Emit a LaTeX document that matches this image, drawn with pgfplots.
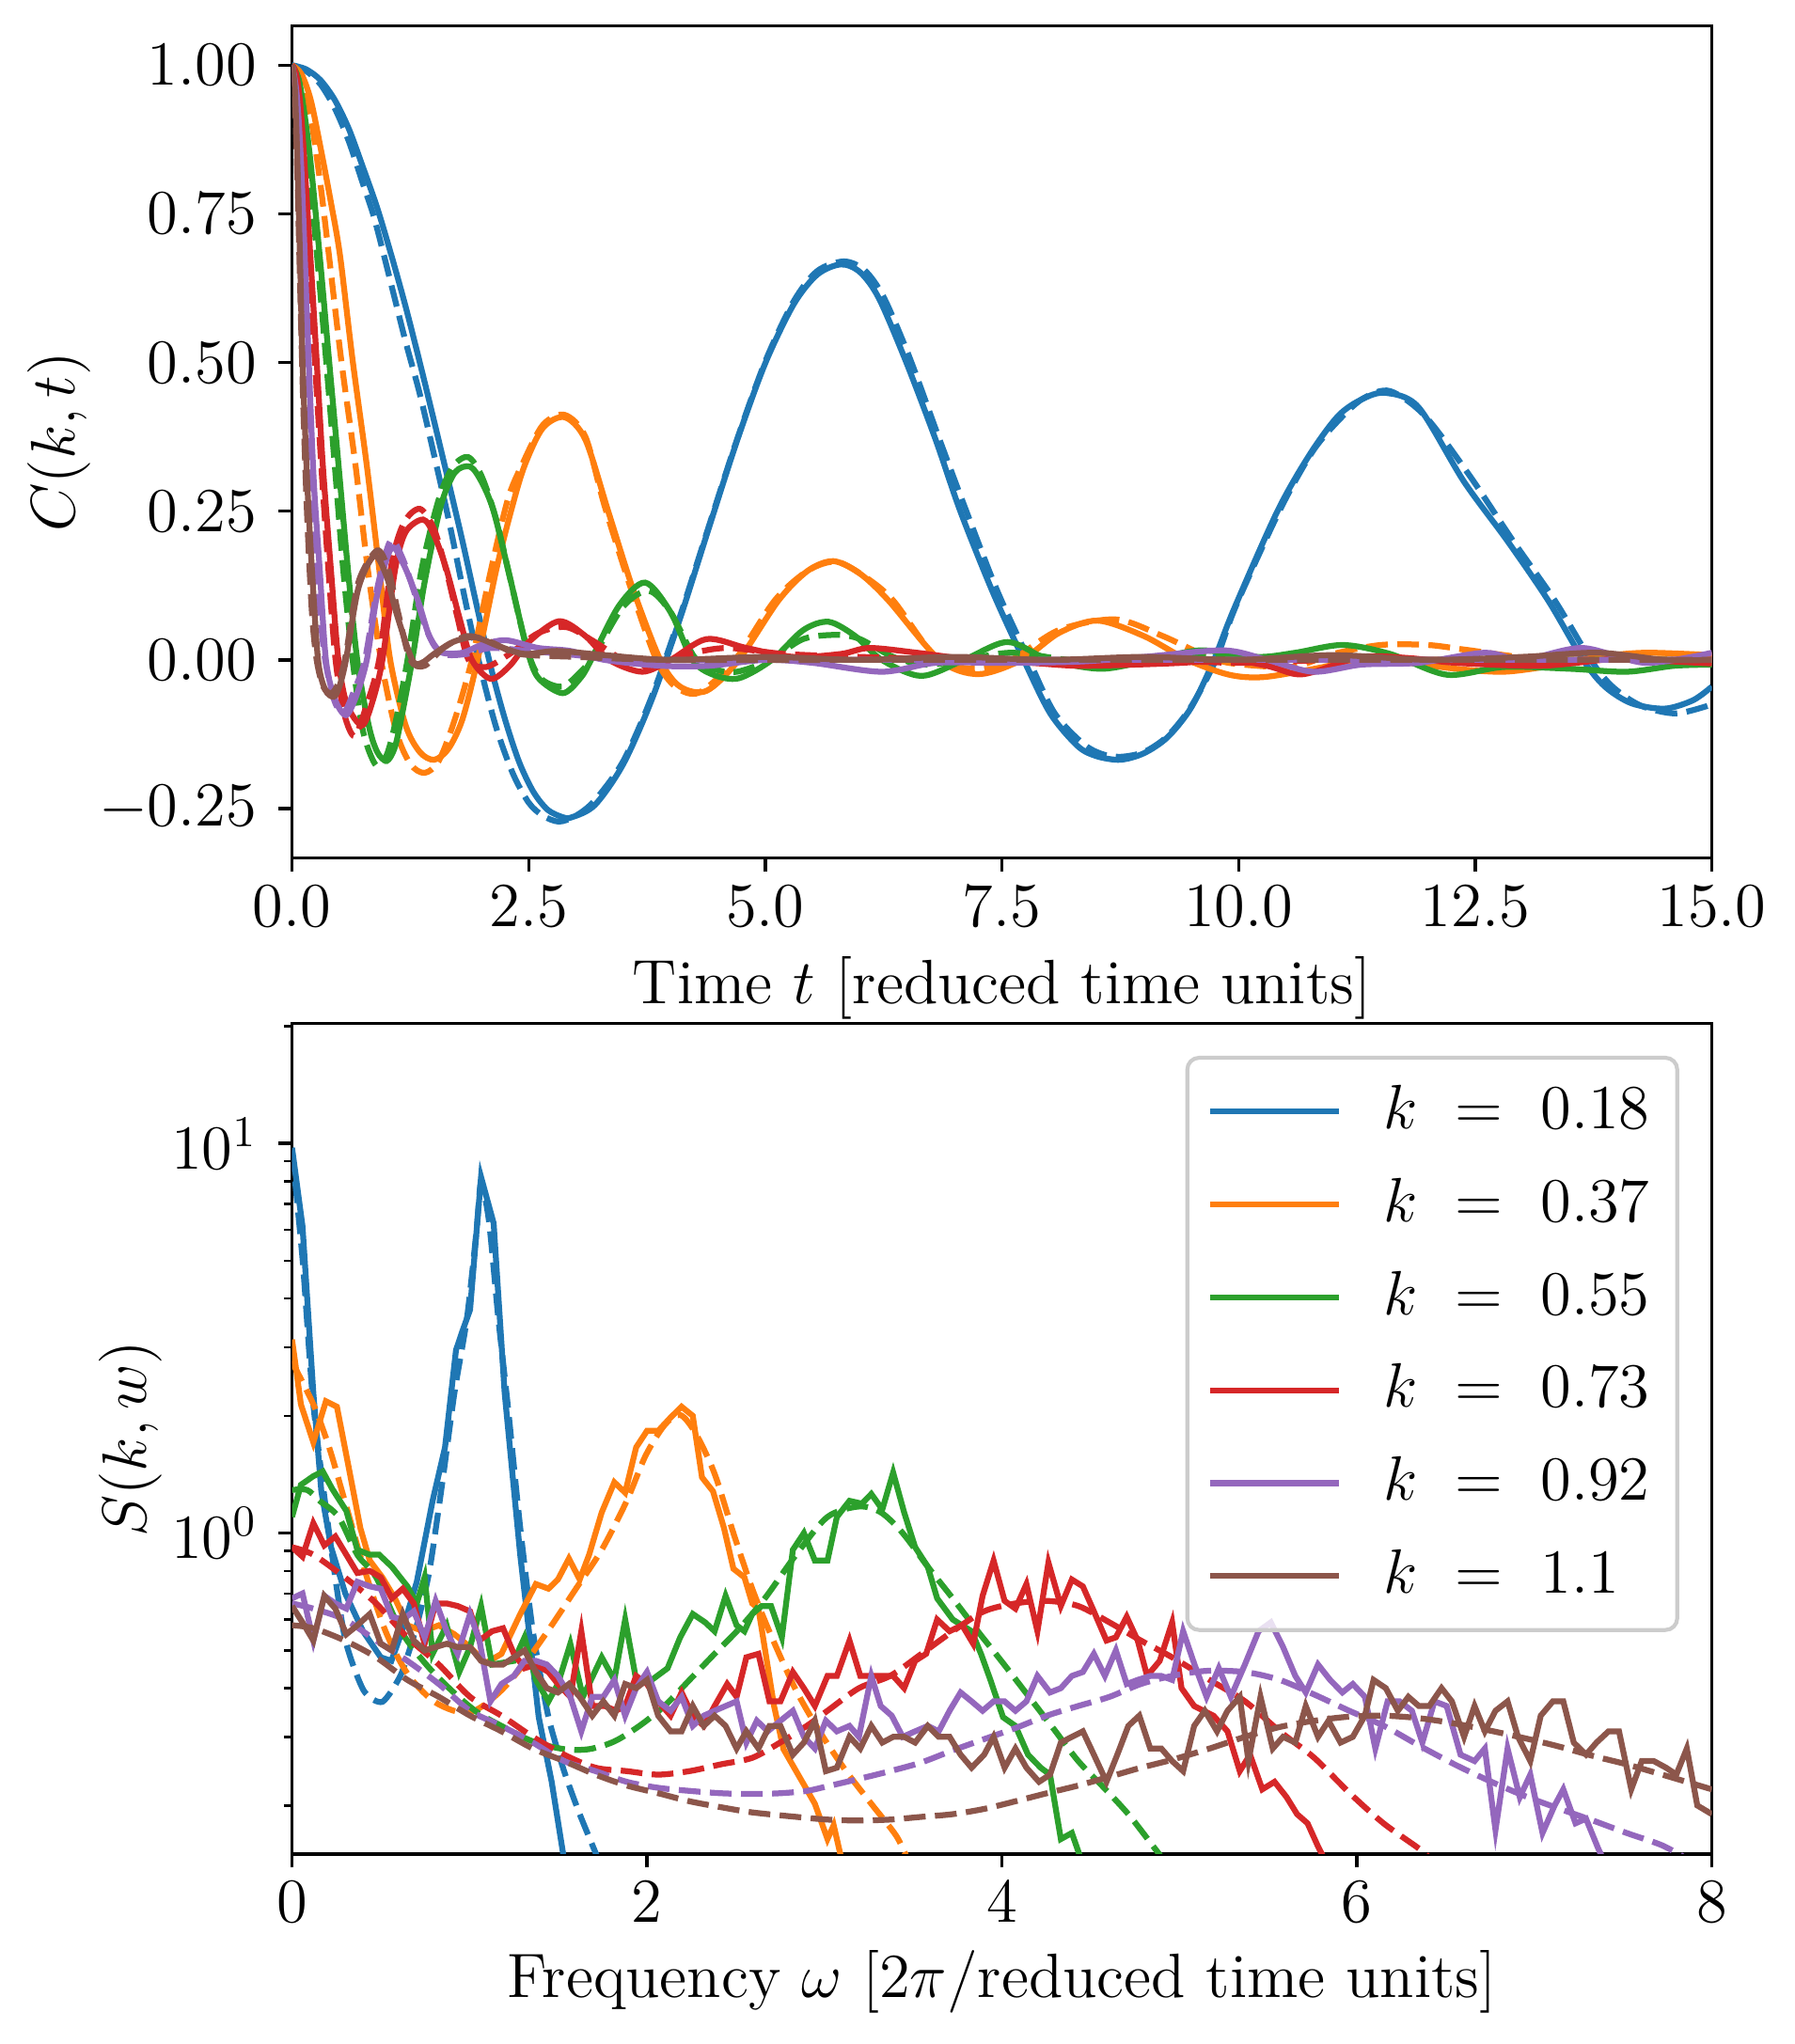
\documentclass[border=0pt]{standalone}
\usepackage{fix-cm}
\usepackage{pgfplots}
\pgfplotsset{compat=1.18}
\definecolor{c0}{HTML}{1F77B4}
\definecolor{c1}{HTML}{FF7F0E}
\definecolor{c2}{HTML}{2CA02C}
\definecolor{c3}{HTML}{D62728}
\definecolor{c4}{HTML}{9467BD}
\definecolor{c5}{HTML}{8C564B}
\pgfplotsset{
  base/.style={scale only axis, width=362.4pt, axis line style={line width=0.8pt},
    tick align=outside, xtick pos=left, ytick pos=left,
    major tick length=3.5pt, minor tick length=2pt,
    every tick/.style={black, line width=0.8pt},
    every minor tick/.style={black, line width=0.6pt},
    scaled ticks=false},
  sol/.style={line width=1.5pt},
  das/.style={line width=1.5pt, dash pattern=on 5.55pt off 2.4pt},
}
\begin{document}%
\DeclareFontShape{TU}{lmr}{m}{n}{<-> "[lmroman12-regular]:mapping=tex-text"}{}%
\fontsize{16}{19}\selectfont%
\begin{tikzpicture}
\useasboundingbox (-74.54pt,6.65pt) rectangle (383.38pt,-515.11pt);
\begin{axis}[base, height=212.4pt, at={(0pt,0pt)}, anchor=north west,
  xmin=0, xmax=15, ymin=-0.3334, ymax=1.0658,
  xtick={0,2.5,5,7.5,10,12.5,15}, ytick={-0.25,0,0.25,0.5,0.75,1},
  xticklabel style={yshift=1.8pt, /pgf/number format/.cd, fixed, fixed zerofill, precision=1},
  yticklabel style={/pgf/number format/.cd, fixed, fixed zerofill, precision=2},
  xlabel={Time $t$ [reduced time units]}, ylabel={$C(k,t)$},
  xlabel style={at={(axis description cs:0.5,-0.156)}, anchor=center},
  ylabel style={at={(axis description cs:-0.1638,0.5)}, anchor=center},
  every axis plot/.append style={smooth, tension=0.5}]
% blue
\addplot[sol, c0] coordinates {(0,1) (0.15,0.993) (0.3,0.975) (0.45,0.942) (0.6,0.893) (0.75,0.828) (0.9,0.76) (1.05,0.68) (1.2,0.594) (1.35,0.5) (1.5,0.402) (1.65,0.302) (1.8,0.2) (1.95,0.092) (2.1,-0.012) (2.25,-0.1) (2.4,-0.172) (2.55,-0.222) (2.7,-0.252) (2.85,-0.264) (2.95,-0.265) (3.2,-0.244) (3.5,-0.175) (3.8,-0.067) (4.1,0.07) (4.4,0.22) (4.7,0.368) (5.0,0.499) (5.3,0.598) (5.55,0.648) (5.8,0.665) (6.0,0.652) (6.2,0.608) (6.49,0.5) (6.8,0.37) (7.06,0.25) (7.4,0.115) (7.73,0.0) (8.01,-0.09) (8.3,-0.145) (8.5,-0.162) (8.75,-0.168) (9.0,-0.157) (9.25,-0.13) (9.5,-0.08) (9.74,0.0) (9.95,0.085) (10.41,0.25) (10.75,0.345) (11.05,0.41) (11.3,0.438) (11.55,0.449) (11.9,0.425) (12.38,0.3) (12.84,0.2) (13.27,0.1) (13.64,0.0) (13.87,-0.045) (14.15,-0.073) (14.5,-0.082) (14.8,-0.068) (15,-0.045)};
\addplot[das, c0] coordinates {(0,1) (0.15,0.99) (0.3,0.968) (0.45,0.928) (0.6,0.872) (0.75,0.8) (0.872,0.741) (1.05,0.63) (1.2,0.535) (1.35,0.447) (1.5,0.345) (1.66,0.232) (1.83,0.1) (1.97,0.0) (2.15,-0.11) (2.33,-0.19) (2.5,-0.24) (2.65,-0.262) (2.82,-0.272) (3.0,-0.262) (3.2,-0.236) (3.5,-0.17) (3.8,-0.062) (4.1,0.074) (4.4,0.223) (4.7,0.37) (5.0,0.502) (5.3,0.603) (5.55,0.654) (5.83,0.67) (6.05,0.655) (6.25,0.61) (6.52,0.51) (6.83,0.375) (7.1,0.26) (7.44,0.12) (7.77,0.005) (8.05,-0.088) (8.35,-0.14) (8.55,-0.158) (8.75,-0.163) (9.0,-0.155) (9.25,-0.128) (9.5,-0.078) (9.76,0.0) (9.97,0.09) (10.43,0.25) (10.78,0.35) (11.07,0.405) (11.32,0.44) (11.6,0.452) (11.97,0.41) (12.44,0.31) (12.9,0.2) (13.34,0.1) (13.72,0.0) (13.95,-0.045) (14.25,-0.077) (14.62,-0.09) (15,-0.075)};
% orange
\addplot[sol, c1] coordinates {(0,1) (0.1,0.985) (0.2,0.94) (0.309,0.855) (0.41,0.77) (0.507,0.68) (0.64,0.504) (0.789,0.328) (0.921,0.153) (1.037,0.0) (1.2,-0.11) (1.35,-0.155) (1.5,-0.168) (1.65,-0.15) (1.8,-0.1) (1.96,0.0) (2.16,0.153) (2.33,0.26) (2.46,0.328) (2.65,0.39) (2.88,0.408) (3.1,0.37) (3.34,0.25) (3.6,0.12) (3.89,0.0) (4.1,-0.045) (4.38,-0.052) (4.72,0.0) (5.14,0.1) (5.45,0.15) (5.72,0.166) (6.0,0.145) (6.3,0.1) (6.84,0.0) (7.25,-0.024) (7.71,0.0) (8.1,0.045) (8.51,0.066) (9.0,0.04) (9.46,0.0) (9.9,-0.025) (10.26,-0.029) (10.8,-0.015) (11.3,0.0) (11.8,-0.005) (12.3,-0.015) (12.8,-0.02) (13.3,-0.01) (13.8,0.005) (14.3,0.012) (15,0.008)};
\addplot[das, c1] coordinates {(0,1) (0.1,0.975) (0.2,0.91) (0.3,0.8) (0.39,0.68) (0.52,0.504) (0.67,0.328) (0.8,0.153) (0.94,0.0) (1.1,-0.12) (1.25,-0.175) (1.40,-0.19) (1.55,-0.17) (1.72,-0.1) (1.9,0.0) (2.1,0.15) (2.28,0.27) (2.43,0.328) (2.65,0.395) (2.88,0.412) (3.1,0.375) (3.3,0.26) (3.58,0.12) (3.85,0.0) (4.05,-0.045) (4.3,-0.055) (4.68,0.0) (5.1,0.1) (5.45,0.15) (5.75,0.165) (6.05,0.14) (6.35,0.1) (6.8,0.005) (7.2,-0.015) (7.6,0.0) (8.1,0.05) (8.7,0.068) (9.2,0.04) (9.76,0.0) (10.2,-0.01) (10.6,-0.011) (11.0,0.01) (11.5,0.025) (12.0,0.025) (12.4,0.017) (13.1,0.003) (14.0,0.0) (15,0.005)};
% green
\addplot[sol, c2] coordinates {(0,1) (0.08,0.97) (0.183,0.855) (0.292,0.68) (0.391,0.504) (0.491,0.328) (0.59,0.153) (0.689,0.0) (0.81,-0.11) (0.9,-0.155) (1.0,-0.17) (1.08,-0.15) (1.14,-0.11) (1.27,0.0) (1.40,0.13) (1.57,0.258) (1.72,0.315) (1.88,0.325) (2.0,0.3) (2.13,0.25) (2.3,0.14) (2.48,0.02) (2.6,-0.03) (2.86,-0.056) (3.05,-0.03) (3.16,0.0) (3.45,0.09) (3.73,0.13) (4.0,0.08) (4.23,0.0) (4.45,-0.025) (4.72,-0.031) (5.07,0.0) (5.4,0.05) (5.67,0.064) (5.95,0.04) (6.23,0.0) (6.65,-0.027) (7.1,0.0) (7.56,0.03) (8.0,0.0) (8.55,-0.015) (9.08,0.0) (9.6,0.016) (10.2,0.005) (10.6,0.012) (11.1,0.025) (11.6,0.01) (12.2,-0.025) (12.8,-0.012) (13.5,-0.015) (14.1,-0.02) (14.6,-0.01) (15,-0.008)};
\addplot[das, c2] coordinates {(0,1) (0.08,0.965) (0.17,0.84) (0.27,0.67) (0.36,0.504) (0.45,0.33) (0.54,0.153) (0.64,0.0) (0.75,-0.12) (0.89,-0.178) (1.0,-0.16) (1.1,-0.1) (1.22,0.0) (1.37,0.153) (1.55,0.27) (1.7,0.325) (1.86,0.341) (2.0,0.31) (2.15,0.24) (2.3,0.14) (2.48,0.02) (2.62,-0.03) (2.85,-0.045) (3.05,-0.02) (3.2,0.01) (3.5,0.09) (3.77,0.116) (4.0,0.08) (4.25,0.005) (4.45,-0.015) (4.7,-0.02) (5.05,0.0) (5.4,0.035) (5.75,0.042) (6.0,0.035) (6.35,0.005) (6.7,-0.008) (7.1,0.0) (7.6,0.012) (8.2,0.0) (8.8,-0.005) (9.5,0.005) (10.5,0.002) (11.5,0.0) (12.5,0.0) (13.5,0.0) (15,0.0)};
% red
\addplot[sol, c3] coordinates {(0,1) (0.05,0.98) (0.1,0.91) (0.193,0.68) (0.26,0.504) (0.325,0.328) (0.41,0.153) (0.49,0.0) (0.58,-0.075) (0.74,-0.11) (0.85,-0.07) (0.955,0.0) (1.09,0.153) (1.2,0.215) (1.385,0.236) (1.5,0.21) (1.63,0.153) (1.77,0.07) (1.90,0.0) (2.1,-0.032) (2.3,-0.01) (2.5,0.03) (2.82,0.065) (3.1,0.04) (3.35,0.0) (3.7,-0.02) (4.0,0.0) (4.38,0.035) (4.8,0.02) (5.3,0.005) (5.8,0.01) (6.1,0.02) (6.6,0.012) (7.2,0.0) (7.8,-0.005) (8.3,-0.01) (8.9,-0.008) (9.4,-0.005) (9.9,0.0) (10.3,-0.01) (10.6,-0.024) (10.8,-0.02) (11.3,0.005) (11.8,0.003) (12.3,-0.005) (13.2,-0.01) (14.0,0.002) (14.5,-0.002) (15,-0.006)};
\addplot[das, c3] coordinates {(0,1) (0.05,0.975) (0.12,0.85) (0.18,0.67) (0.25,0.48) (0.32,0.3) (0.39,0.14) (0.46,0.0) (0.55,-0.09) (0.66,-0.128) (0.78,-0.08) (0.92,0.0) (1.05,0.16) (1.18,0.23) (1.35,0.254) (1.5,0.22) (1.63,0.15) (1.75,0.07) (1.865,0.0) (2.05,-0.012) (2.3,0.01) (2.6,0.045) (2.9,0.055) (3.2,0.03) (3.5,0.0) (3.8,-0.01) (4.2,0.01) (4.6,0.02) (5.2,0.01) (6.0,0.005) (7.0,0.0) (8.0,-0.005) (9.0,0.0) (10.0,-0.005) (11.0,0.0) (12.0,0.0) (13.0,0.0) (14.0,0.0) (15,0.0)};
% purple
\addplot[sol, c4] coordinates {(0,1) (0.05,0.95) (0.1,0.82) (0.176,0.504) (0.23,0.3) (0.292,0.153) (0.358,0.0) (0.45,-0.065) (0.57,-0.093) (0.68,-0.06) (0.79,0.0) (0.9,0.11) (1.05,0.188) (1.18,0.16) (1.33,0.1) (1.45,0.04) (1.57,0.013) (1.80,0.012) (2.0,0.025) (2.26,0.033) (2.6,0.02) (2.94,0.015) (3.3,0.0) (3.9,-0.01) (4.4,-0.01) (5.0,0.0) (5.5,-0.005) (6.23,-0.02) (6.8,-0.005) (7.5,-0.005) (8.3,-0.003) (9.0,0.005) (9.84,0.016) (10.3,0.0) (10.79,-0.02) (11.3,-0.008) (11.9,-0.005) (12.6,0.012) (13.0,0.0) (13.63,0.02) (14.3,-0.005) (15,0.012)};
\addplot[das, c4] coordinates {(0,1) (0.05,0.94) (0.1,0.79) (0.17,0.48) (0.23,0.22) (0.29,0.09) (0.35,0.0) (0.45,-0.07) (0.55,-0.088) (0.66,-0.05) (0.77,0.0) (0.9,0.12) (1.04,0.2) (1.17,0.17) (1.32,0.1) (1.45,0.04) (1.6,0.01) (1.85,0.01) (2.1,0.02) (2.5,0.015) (3.0,0.008) (3.5,0.0) (4.5,0.0) (6,0.0) (8,0.0) (10,0.0) (12,0.0) (15,0.0)};
% brown
\addplot[sol, c5] coordinates {(0,1) (0.03,0.96) (0.06,0.82) (0.09,0.64) (0.11,0.504) (0.16,0.3) (0.21,0.153) (0.275,0.0) (0.35,-0.05) (0.44,-0.062) (0.5,-0.045) (0.57,0.0) (0.7,0.12) (0.87,0.175) (1.0,0.14) (1.1,0.08) (1.27,0.0) (1.37,-0.005) (1.5,0.01) (1.7,0.03) (1.93,0.038) (2.2,0.022) (2.46,0.01) (2.8,0.015) (3.3,0.008) (4.0,0.0) (5,0.005) (6,0.0) (7,0.005) (8,0.0) (9,0.005) (10,0.0) (11,0.008) (12,0.0) (13,0.005) (13.8,0.012) (14.5,0.0) (15,0.0)};
\addplot[das, c5] coordinates {(0,1) (0.03,0.94) (0.06,0.79) (0.09,0.6) (0.12,0.42) (0.16,0.24) (0.21,0.08) (0.26,0.0) (0.33,-0.045) (0.42,-0.056) (0.5,-0.035) (0.57,0.01) (0.7,0.13) (0.9,0.184) (1.02,0.15) (1.12,0.08) (1.25,0.0) (1.4,-0.01) (1.6,0.02) (1.85,0.04) (2.1,0.03) (2.4,0.01) (3,0.005) (4,0.0) (6,0.0) (8,0.0) (10,0.0) (12,0.0) (15,0.0)};
\end{axis}
\begin{axis}[base, height=212.0pt, at={(0pt,-254.59pt)}, anchor=north west,
  ymode=log, xmin=0, xmax=8, ymin=0.1502, ymax=20.32,
  xtick={0,2,4,6,8}, ytick={1,10},
  minor ytick={0.2,0.3,0.4,0.5,0.6,0.7,0.8,0.9,2,3,4,5,6,7,8,9,20},
  xticklabel style={yshift=1.8pt},
  xlabel={Frequency $\omega$ [$2\pi$/reduced time units]}, ylabel={$S(k,w)$},
  xlabel style={at={(axis description cs:0.5,-0.154)}, anchor=center},
  ylabel style={at={(axis description cs:-0.1139,0.5)}, anchor=center},
  legend style={at={(0.977,0.961)}, anchor=north east, draw=black!20, line width=1pt,
    rounded corners=3pt, fill=white, fill opacity=0.8, text opacity=1, draw opacity=1,
    row sep=6.2pt, inner xsep=5pt, inner ysep=5pt,
    /tikz/every odd column/.append style={column sep=8.5pt}},
  legend cell align=left,
  legend image code/.code={\draw[#1] (0pt,0pt) -- (33pt,0pt);}]
% blue
\addplot[sol, c0] coordinates {(0,9.75) (0.059,6.13) (0.12,2.29) (0.165,1.28) (0.22,0.92) (0.3,0.7) (0.4,0.56) (0.5,0.48) (0.56,0.47) (0.62,0.56) (0.703,0.75) (0.792,1.21) (0.862,1.66) (0.924,2.95) (0.96,3.3) (1.003,3.74) (1.065,8.2) (1.136,6.24) (1.198,2.29) (1.286,0.877) (1.339,0.54) (1.39,0.337) (1.463,0.23) (1.533,0.145)};
\addlegendentry{$k\ =\ 0.18$}
\addplot[das, c0, smooth, tension=0.4, forget plot] coordinates {(0,9.6) (0.06,5.0) (0.12,2.14) (0.209,1.0) (0.297,0.54) (0.403,0.395) (0.509,0.369) (0.615,0.435) (0.703,0.58) (0.774,0.8) (0.845,1.33) (0.915,2.29) (0.986,3.57) (1.039,5.94) (1.065,7.94) (1.11,6.3) (1.162,3.57) (1.215,2.14) (1.286,1.03) (1.357,0.56) (1.445,0.337) (1.533,0.245) (1.621,0.19) (1.727,0.145)};
% orange
\addplot[sol, c1] coordinates {(0,3.14) (0.05,2.14) (0.12,1.71) (0.191,2.18) (0.253,2.11) (0.315,1.51) (0.385,1.03) (0.438,0.85) (0.509,0.77) (0.58,0.68) (0.65,0.58) (0.739,0.56) (0.827,0.58) (0.915,0.55) (1.003,0.51) (1.092,0.464) (1.18,0.49) (1.286,0.62) (1.374,0.74) (1.445,0.72) (1.498,0.76) (1.56,0.86) (1.621,0.76) (1.674,0.88) (1.745,1.13) (1.816,1.35) (1.877,1.27) (1.939,1.66) (2.0,1.83) (2.063,1.83) (2.133,1.98) (2.195,2.11) (2.258,2.0) (2.31,1.39) (2.372,1.28) (2.434,1.03) (2.487,0.81) (2.549,0.77) (2.593,0.66) (2.628,0.64) (2.716,0.36) (2.769,0.279) (2.875,0.23) (2.946,0.202) (3.017,0.164) (3.052,0.178) (3.097,0.145)};
\addlegendentry{$k\ =\ 0.37$}
\addplot[das, c1, smooth, forget plot] coordinates {(0,2.75) (0.12,2.14) (0.209,1.66) (0.297,1.21) (0.403,0.82) (0.527,0.56) (0.65,0.436) (0.792,0.372) (0.933,0.348) (1.039,0.352) (1.18,0.395) (1.321,0.47) (1.463,0.58) (1.604,0.725) (1.745,0.906) (1.886,1.21) (1.992,1.58) (2.098,1.89) (2.187,2.01) (2.275,1.80) (2.381,1.42) (2.487,1.0) (2.593,0.72) (2.7,0.545) (2.84,0.395) (2.98,0.306) (3.122,0.245) (3.264,0.202) (3.405,0.167) (3.47,0.145)};
% green
\addplot[sol, c2] coordinates {(0,1.1) (0.05,1.33) (0.12,1.40) (0.173,1.44) (0.226,1.30) (0.306,1.14) (0.368,0.906) (0.438,0.88) (0.491,0.88) (0.562,0.82) (0.65,0.73) (0.703,0.66) (0.747,0.77) (0.792,0.49) (0.871,0.58) (0.942,0.44) (1.003,0.51) (1.065,0.65) (1.127,0.46) (1.25,0.47) (1.31,0.54) (1.374,0.42) (1.445,0.37) (1.498,0.41) (1.568,0.52) (1.639,0.38) (1.745,0.48) (1.816,0.42) (1.877,0.6) (1.939,0.42) (2.027,0.42) (2.116,0.45) (2.187,0.54) (2.258,0.62) (2.328,0.59) (2.381,0.56) (2.443,0.69) (2.505,0.58) (2.549,0.56) (2.593,0.62) (2.646,0.65) (2.699,0.65) (2.76,0.54) (2.822,0.906) (2.884,1.0) (2.946,0.85) (3.017,0.85) (3.07,1.1) (3.141,1.21) (3.211,1.19) (3.264,1.26) (3.326,1.15) (3.387,1.43) (3.449,1.13) (3.511,0.92) (3.582,0.82) (3.635,0.68) (3.723,0.6) (3.829,0.56) (3.882,0.49) (3.935,0.42) (4.006,0.337) (4.076,0.32) (4.147,0.27) (4.218,0.25) (4.271,0.24) (4.332,0.164) (4.394,0.17) (4.447,0.145)};
\addlegendentry{$k\ =\ 0.55$}
\addplot[das, c2, smooth, forget plot] coordinates {(0,1.29) (0.085,1.29) (0.156,1.21) (0.262,1.1) (0.368,0.88) (0.474,0.77) (0.615,0.56) (0.756,0.46) (0.898,0.395) (1.039,0.348) (1.18,0.32) (1.357,0.292) (1.533,0.279) (1.674,0.279) (1.816,0.292) (1.957,0.32) (2.098,0.36) (2.24,0.42) (2.381,0.49) (2.522,0.57) (2.664,0.68) (2.84,0.88) (3.017,1.1) (3.194,1.17) (3.318,1.13) (3.441,1.0) (3.582,0.82) (3.723,0.68) (3.864,0.56) (4.006,0.464) (4.147,0.383) (4.288,0.316) (4.43,0.26) (4.571,0.223) (4.712,0.19) (4.853,0.157) (4.91,0.145)};
% red
\addplot[sol, c3] coordinates {(0,0.92) (0.059,0.87) (0.12,1.06) (0.182,0.93) (0.244,0.98) (0.306,0.88) (0.368,0.79) (0.438,0.8) (0.5,0.77) (0.562,0.68) (0.624,0.72) (0.686,0.66) (0.747,0.52) (0.809,0.66) (0.871,0.66) (0.933,0.65) (1.003,0.63) (1.056,0.53) (1.127,0.56) (1.189,0.57) (1.25,0.49) (1.31,0.45) (1.374,0.46) (1.445,0.44) (1.498,0.41) (1.568,0.38) (1.63,0.56) (1.692,0.36) (1.763,0.36) (1.825,0.35) (1.877,0.36) (1.939,0.43) (2.0,0.41) (2.063,0.37) (2.133,0.34) (2.195,0.39) (2.258,0.34) (2.32,0.32) (2.381,0.36) (2.452,0.41) (2.505,0.38) (2.56,0.48) (2.628,0.49) (2.69,0.37) (2.752,0.37) (2.822,0.44) (2.884,0.4) (2.946,0.36) (3.017,0.43) (3.07,0.43) (3.141,0.53) (3.202,0.43) (3.264,0.43) (3.387,0.43) (3.449,0.4) (3.511,0.47) (3.573,0.49) (3.635,0.6) (3.705,0.56) (3.776,0.58) (3.838,0.52) (3.891,0.69) (3.953,0.85) (4.015,0.67) (4.076,0.64) (4.138,0.74) (4.2,0.56) (4.262,0.84) (4.332,0.65) (4.394,0.76) (4.456,0.73) (4.518,0.63) (4.589,0.53) (4.642,0.54) (4.703,0.61) (4.765,0.53) (4.818,0.43) (4.889,0.47) (4.959,0.59) (5.012,0.4) (5.083,0.36) (5.192,0.34) (5.271,0.31) (5.34,0.245) (5.398,0.27) (5.467,0.22) (5.536,0.23) (5.604,0.21) (5.663,0.19) (5.722,0.18) (5.781,0.157) (5.82,0.145)};
\addlegendentry{$k\ =\ 0.73$}
\addplot[das, c3, smooth, forget plot] coordinates {(0,0.92) (0.12,0.88) (0.297,0.77) (0.474,0.66) (0.65,0.54) (0.827,0.46) (1.003,0.38) (1.18,0.34) (1.357,0.30) (1.533,0.27) (1.71,0.25) (1.886,0.245) (2.063,0.24) (2.24,0.245) (2.416,0.255) (2.593,0.265) (2.75,0.29) (2.9,0.32) (3.017,0.35) (3.194,0.4) (3.37,0.43) (3.547,0.49) (3.723,0.56) (3.9,0.63) (4.076,0.66) (4.253,0.67) (4.43,0.65) (4.606,0.59) (4.783,0.53) (4.959,0.48) (5.17,0.42) (5.37,0.37) (5.565,0.31) (5.76,0.265) (5.96,0.215) (6.15,0.18) (6.35,0.155) (6.42,0.145)};
% purple
\addplot[sol, c4] coordinates {(0,0.68) (0.059,0.70) (0.12,0.53) (0.182,0.69) (0.244,0.66) (0.306,0.64) (0.368,0.75) (0.438,0.73) (0.5,0.72) (0.562,0.61) (0.624,0.6) (0.686,0.63) (0.747,0.54) (0.809,0.67) (0.871,0.56) (0.933,0.49) (1.003,0.62) (1.056,0.53) (1.118,0.37) (1.18,0.41) (1.25,0.43) (1.31,0.47) (1.374,0.47) (1.436,0.46) (1.498,0.43) (1.568,0.38) (1.63,0.31) (1.692,0.38) (1.754,0.38) (1.816,0.42) (1.877,0.34) (1.939,0.4) (2.0,0.44) (2.063,0.37) (2.133,0.35) (2.195,0.38) (2.258,0.32) (2.32,0.34) (2.381,0.35) (2.443,0.36) (2.505,0.37) (2.56,0.29) (2.619,0.33) (2.681,0.31) (2.752,0.33) (2.822,0.35) (2.884,0.3) (2.946,0.28) (3.008,0.33) (3.07,0.31) (3.141,0.32) (3.194,0.3) (3.264,0.43) (3.317,0.36) (3.379,0.34) (3.441,0.3) (3.511,0.31) (3.582,0.32) (3.644,0.31) (3.705,0.35) (3.767,0.39) (3.829,0.37) (3.891,0.35) (3.953,0.37) (4.015,0.37) (4.076,0.35) (4.138,0.37) (4.2,0.43) (4.271,0.39) (4.332,0.4) (4.394,0.43) (4.456,0.44) (4.518,0.49) (4.58,0.43) (4.642,0.5) (4.703,0.41) (4.765,0.42) (4.836,0.43) (4.898,0.43) (4.959,0.42) (5.021,0.56) (5.085,0.46) (5.153,0.38) (5.222,0.45) (5.29,0.38) (5.369,0.46) (5.446,0.56) (5.515,0.59) (5.584,0.51) (5.653,0.43) (5.712,0.39) (5.781,0.46) (5.849,0.42) (5.918,0.39) (5.977,0.41) (6.045,0.38) (6.104,0.28) (6.173,0.37) (6.241,0.37) (6.31,0.35) (6.369,0.29) (6.437,0.37) (6.506,0.36) (6.584,0.27) (6.663,0.26) (6.721,0.28) (6.781,0.173) (6.849,0.28) (6.918,0.21) (6.977,0.24) (7.046,0.17) (7.114,0.2) (7.163,0.22) (7.232,0.18) (7.291,0.185) (7.36,0.155) (7.39,0.145)};
\addlegendentry{$k\ =\ 0.92$}
\addplot[das, c4, smooth, forget plot] coordinates {(0,0.66) (0.12,0.64) (0.297,0.6) (0.474,0.53) (0.65,0.47) (0.827,0.41) (1.003,0.35) (1.18,0.32) (1.357,0.29) (1.533,0.26) (1.71,0.245) (1.886,0.23) (2.063,0.222) (2.24,0.218) (2.416,0.215) (2.593,0.214) (2.75,0.215) (2.9,0.218) (3.017,0.224) (3.194,0.234) (3.37,0.245) (3.547,0.258) (3.723,0.277) (3.9,0.296) (4.076,0.316) (4.253,0.34) (4.43,0.36) (4.606,0.38) (4.783,0.41) (4.959,0.43) (5.15,0.443) (5.369,0.44) (5.565,0.42) (5.761,0.385) (5.957,0.35) (6.153,0.32) (6.35,0.285) (6.55,0.255) (6.74,0.232) (6.94,0.212) (7.13,0.197) (7.33,0.183) (7.52,0.17) (7.72,0.158) (7.87,0.145)};
% brown
\addplot[sol, c5] coordinates {(0,0.65) (0.059,0.59) (0.12,0.53) (0.182,0.69) (0.244,0.64) (0.306,0.55) (0.368,0.58) (0.438,0.62) (0.5,0.52) (0.562,0.5) (0.624,0.62) (0.686,0.53) (0.747,0.5) (0.809,0.51) (0.871,0.52) (0.933,0.51) (1.003,0.51) (1.065,0.47) (1.127,0.46) (1.189,0.46) (1.25,0.48) (1.31,0.5) (1.374,0.44) (1.436,0.4) (1.498,0.39) (1.56,0.41) (1.621,0.38) (1.692,0.34) (1.754,0.37) (1.816,0.34) (1.877,0.41) (1.939,0.4) (2.0,0.42) (2.063,0.34) (2.133,0.31) (2.195,0.31) (2.258,0.36) (2.32,0.32) (2.381,0.34) (2.443,0.32) (2.505,0.28) (2.56,0.31) (2.628,0.28) (2.69,0.32) (2.752,0.32) (2.822,0.27) (2.884,0.29) (2.946,0.33) (3.008,0.245) (3.07,0.25) (3.141,0.3) (3.202,0.28) (3.264,0.32) (3.326,0.29) (3.387,0.3) (3.449,0.3) (3.511,0.29) (3.582,0.32) (3.644,0.3) (3.705,0.3) (3.767,0.27) (3.829,0.25) (3.9,0.27) (3.953,0.3) (4.015,0.25) (4.076,0.28) (4.138,0.25) (4.209,0.23) (4.271,0.24) (4.332,0.29) (4.394,0.3) (4.456,0.31) (4.518,0.27) (4.589,0.23) (4.65,0.27) (4.712,0.32) (4.774,0.34) (4.836,0.28) (4.898,0.28) (4.959,0.26) (5.021,0.245) (5.083,0.32) (5.143,0.35) (5.212,0.31) (5.271,0.35) (5.34,0.38) (5.389,0.26) (5.457,0.38) (5.526,0.28) (5.584,0.3) (5.653,0.29) (5.712,0.36) (5.781,0.3) (5.84,0.33) (5.908,0.29) (5.977,0.3) (6.045,0.34) (6.094,0.42) (6.163,0.4) (6.231,0.35) (6.29,0.38) (6.349,0.36) (6.408,0.36) (6.477,0.4) (6.535,0.37) (6.604,0.3) (6.663,0.36) (6.721,0.31) (6.781,0.35) (6.849,0.37) (6.908,0.3) (6.977,0.26) (7.036,0.34) (7.104,0.37) (7.163,0.37) (7.222,0.29) (7.291,0.27) (7.35,0.29) (7.418,0.31) (7.477,0.31) (7.546,0.22) (7.605,0.26) (7.673,0.26) (7.742,0.25) (7.8,0.24) (7.859,0.28) (7.918,0.2) (8.0,0.19)};
\addlegendentry{$k\ =\ 1.1$}
\addplot[das, c5, smooth, forget plot] coordinates {(0,0.58) (0.12,0.57) (0.297,0.53) (0.474,0.48) (0.65,0.42) (0.827,0.38) (1.003,0.34) (1.18,0.31) (1.357,0.28) (1.533,0.26) (1.71,0.24) (1.886,0.225) (2.063,0.215) (2.24,0.205) (2.416,0.198) (2.593,0.192) (2.84,0.187) (3.017,0.184) (3.194,0.183) (3.37,0.184) (3.547,0.187) (3.723,0.19) (3.9,0.196) (4.076,0.205) (4.253,0.215) (4.43,0.225) (4.606,0.237) (4.783,0.25) (4.959,0.262) (5.17,0.28) (5.369,0.3) (5.565,0.318) (5.761,0.33) (5.957,0.338) (6.153,0.34) (6.349,0.335) (6.545,0.325) (6.74,0.312) (6.94,0.298) (7.13,0.284) (7.33,0.268) (7.52,0.255) (7.72,0.24) (8.0,0.22)};
\end{axis}
\end{tikzpicture}%
\end{document}
